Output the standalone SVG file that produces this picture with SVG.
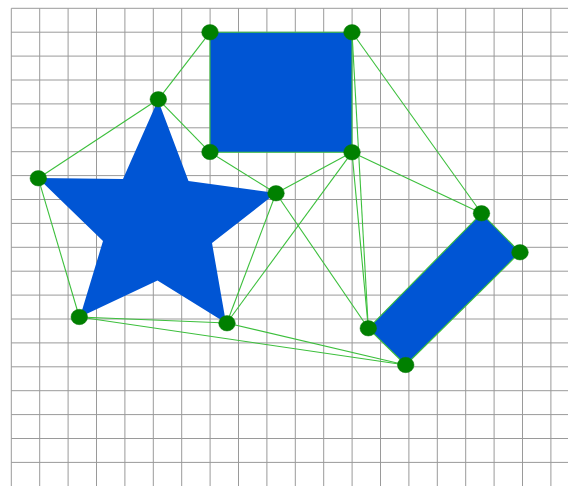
<svg xmlns="http://www.w3.org/2000/svg" width="568" height="486" viewBox="0 0 568 486">
<style>
.grid line{stroke:#9a9a9a;stroke-width:1}
.obst{fill:#0055d4}
.edges line{stroke:#3cbf3c;stroke-width:1.1}
.node ellipse{fill:#008000;stroke:#0a7a0a;stroke-width:0.5}
</style>
<rect width="568" height="486" fill="#ffffff"/>
<g class="grid" id="grid">
<line x1="11.3" y1="8.3" x2="11.3" y2="486"/>
<line x1="39.7" y1="8.3" x2="39.7" y2="486"/>
<line x1="68.1" y1="8.3" x2="68.1" y2="486"/>
<line x1="96.5" y1="8.3" x2="96.5" y2="486"/>
<line x1="124.9" y1="8.3" x2="124.9" y2="486"/>
<line x1="153.3" y1="8.3" x2="153.3" y2="486"/>
<line x1="181.7" y1="8.3" x2="181.7" y2="486"/>
<line x1="210.1" y1="8.3" x2="210.1" y2="486"/>
<line x1="238.5" y1="8.3" x2="238.5" y2="486"/>
<line x1="266.9" y1="8.3" x2="266.9" y2="486"/>
<line x1="295.3" y1="8.3" x2="295.3" y2="486"/>
<line x1="323.7" y1="8.3" x2="323.7" y2="486"/>
<line x1="352.1" y1="8.3" x2="352.1" y2="486"/>
<line x1="380.5" y1="8.3" x2="380.5" y2="486"/>
<line x1="408.9" y1="8.3" x2="408.9" y2="486"/>
<line x1="437.3" y1="8.3" x2="437.3" y2="486"/>
<line x1="465.7" y1="8.3" x2="465.7" y2="486"/>
<line x1="494.1" y1="8.3" x2="494.1" y2="486"/>
<line x1="522.5" y1="8.3" x2="522.5" y2="486"/>
<line x1="550.9" y1="8.3" x2="550.9" y2="486"/>
<line x1="11.3" y1="8.3" x2="568" y2="8.3"/>
<line x1="11.3" y1="32.2" x2="568" y2="32.2"/>
<line x1="11.3" y1="56.1" x2="568" y2="56.1"/>
<line x1="11.3" y1="80" x2="568" y2="80"/>
<line x1="11.3" y1="103.9" x2="568" y2="103.9"/>
<line x1="11.3" y1="127.8" x2="568" y2="127.8"/>
<line x1="11.3" y1="151.7" x2="568" y2="151.7"/>
<line x1="11.3" y1="175.6" x2="568" y2="175.6"/>
<line x1="11.3" y1="199.5" x2="568" y2="199.5"/>
<line x1="11.3" y1="223.4" x2="568" y2="223.4"/>
<line x1="11.3" y1="247.3" x2="568" y2="247.3"/>
<line x1="11.3" y1="271.2" x2="568" y2="271.2"/>
<line x1="11.3" y1="295.1" x2="568" y2="295.1"/>
<line x1="11.3" y1="319" x2="568" y2="319"/>
<line x1="11.3" y1="342.9" x2="568" y2="342.9"/>
<line x1="11.3" y1="366.8" x2="568" y2="366.8"/>
<line x1="11.3" y1="390.7" x2="568" y2="390.7"/>
<line x1="11.3" y1="414.6" x2="568" y2="414.6"/>
<line x1="11.3" y1="438.5" x2="568" y2="438.5"/>
<line x1="11.3" y1="462.4" x2="568" y2="462.4"/>
</g>
<g id="obstacles">
<polygon id="star" class="obst" points="158,100 188.5,181 276,193 212,243 226,323 157.5,280.5 80,317 103,241 38,178 123,179"/>
<rect id="square" class="obst" x="210" y="32.3" width="142" height="120" rx="2"/>
<polygon id="bar" class="obst" points="481.5,213.3 520,252.3 405.7,365 368.3,328.3"/>
</g>
<g class="edges" id="connectors">
<line x1="210" y1="32.3" x2="352" y2="32.3"/>
<line x1="210" y1="32.3" x2="210" y2="152.3"/>
<line x1="210" y1="152.3" x2="352" y2="152.3"/>
<line x1="352" y1="32.3" x2="352" y2="152.3"/>
<line x1="481.5" y1="213.3" x2="520" y2="252.3"/>
<line x1="520" y1="252.3" x2="405.7" y2="365"/>
<line x1="405.7" y1="365" x2="368.3" y2="328.3"/>
<line x1="368.3" y1="328.3" x2="481.5" y2="213.3"/>
<line x1="158.3" y1="99.3" x2="210" y2="32.3"/>
<line x1="158.3" y1="99.3" x2="38.3" y2="178.3"/>
<line x1="158.3" y1="99.3" x2="210" y2="152.3"/>
<line x1="210" y1="152.3" x2="276" y2="193.3"/>
<line x1="38.3" y1="178.3" x2="79.3" y2="317"/>
<line x1="352" y1="32.3" x2="481.5" y2="213.3"/>
<line x1="352" y1="152.3" x2="481.5" y2="213.3"/>
<line x1="352" y1="152.3" x2="276" y2="193.3"/>
<line x1="352" y1="152.3" x2="226.8" y2="323"/>
<line x1="352" y1="32.3" x2="368.3" y2="328.3"/>
<line x1="352" y1="152.3" x2="368.3" y2="328.3"/>
<line x1="276" y1="193.3" x2="226.8" y2="323"/>
<line x1="276" y1="193.3" x2="368.3" y2="328.3"/>
<line x1="79.3" y1="317" x2="226.8" y2="323"/>
<line x1="79.3" y1="317" x2="405.7" y2="365"/>
<line x1="226.8" y1="323" x2="405.7" y2="365"/>
</g>
<g id="n-sq-tl" class="node"><ellipse cx="210" cy="32.3" rx="8.3" ry="7.7"/></g>
<g id="n-sq-tr" class="node"><ellipse cx="352" cy="32.3" rx="8.3" ry="7.7"/></g>
<g id="n-sq-bl" class="node"><ellipse cx="210" cy="152" rx="8.3" ry="7.7"/></g>
<g id="n-sq-br" class="node"><ellipse cx="352" cy="152.3" rx="8.3" ry="7.7"/></g>
<g id="n-st-top" class="node"><ellipse cx="158.3" cy="99.3" rx="8.3" ry="7.7"/></g>
<g id="n-st-left" class="node"><ellipse cx="38.3" cy="178.3" rx="8.3" ry="7.7"/></g>
<g id="n-st-right" class="node"><ellipse cx="276" cy="193.3" rx="8.3" ry="7.7"/></g>
<g id="n-st-bl" class="node"><ellipse cx="79.3" cy="317" rx="8.3" ry="7.7"/></g>
<g id="n-st-br" class="node"><ellipse cx="227" cy="323.3" rx="8.3" ry="7.7"/></g>
<g id="n-bar-top" class="node"><ellipse cx="481.5" cy="213.3" rx="8.3" ry="7.7"/></g>
<g id="n-bar-right" class="node"><ellipse cx="520" cy="252.3" rx="8.3" ry="7.7"/></g>
<g id="n-bar-left" class="node"><ellipse cx="368.3" cy="328.3" rx="8.3" ry="7.7"/></g>
<g id="n-bar-bottom" class="node"><ellipse cx="405.7" cy="365" rx="8.3" ry="7.7"/></g>
</svg>
